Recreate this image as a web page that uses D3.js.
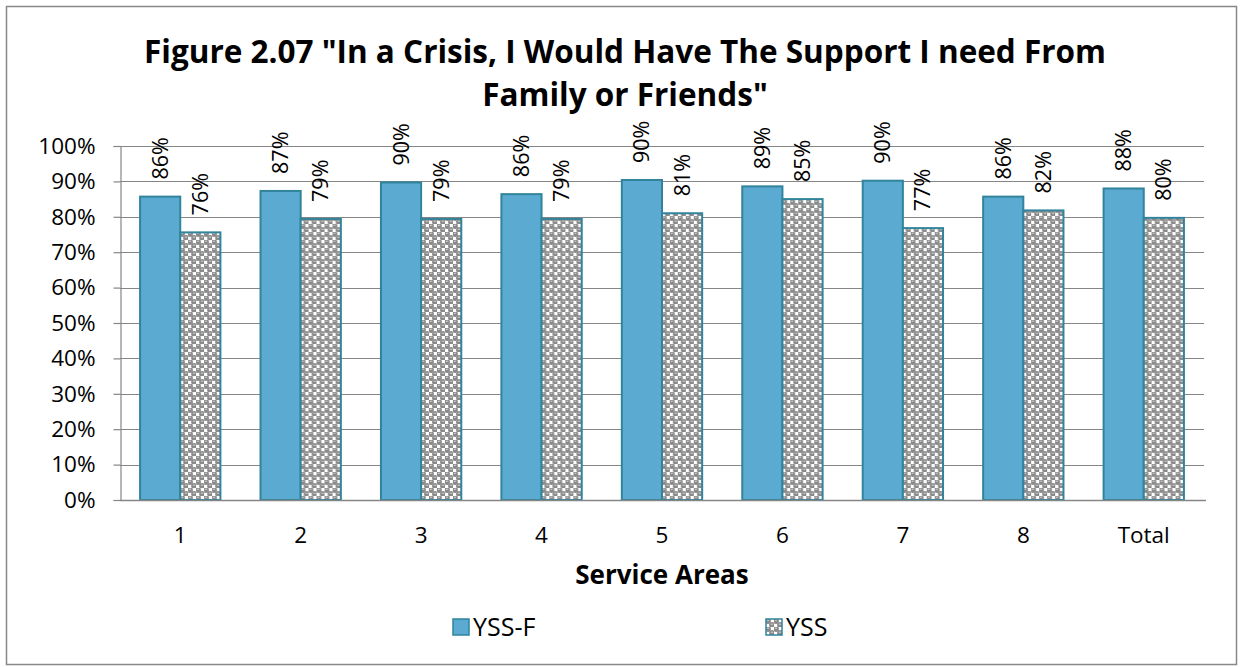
<!DOCTYPE html>
<html lang="en">
<head>
    <meta charset="UTF-8">
    <title>Figure 2.07</title>
    <script src="https://cdn.jsdelivr.net/npm/d3@7/dist/d3.min.js"></script>
    <style>
        body { margin: 0; background: #fff; }
        text { font-family: "Open Sans", "Noto Sans", sans-serif; }
    </style>
</head>
<body>
<script>
    // data
    const areas = ["1", "2", "3", "4", "5", "6", "7", "8", "Total"];
    const seriesNames = ["YSS-F", "YSS"];
    const yssF = [0.857, 0.873, 0.897, 0.864, 0.904, 0.886, 0.902, 0.857, 0.880];
    const yss = [0.756, 0.794, 0.794, 0.794, 0.810, 0.850, 0.768, 0.818, 0.797];
    const yTicks = [0, 0.1, 0.2, 0.3, 0.4, 0.5, 0.6, 0.7, 0.8, 0.9, 1.0];

    const width = 1243, height = 667;
    const margin = {top: 146, right: 39, bottom: 167, left: 120};

    const svg = d3.select("body").append("svg")
        .attr("width", width)
        .attr("height", height);

    // pattern for YSS bars (grey spheres on white)
    const defs = svg.append("defs");
    const pat = defs.append("pattern")
        .attr("id", "dots")
        .attr("patternUnits", "userSpaceOnUse")
        .attr("width", 8).attr("height", 8);
    pat.append("rect").attr("width", 8).attr("height", 8).attr("fill", "#fff");
    [[2, 2], [6, 6]].forEach(([cx, cy]) => {
        pat.append("circle").attr("cx", cx).attr("cy", cy).attr("r", 2.9).attr("fill", "#8a8a8a");
        pat.append("ellipse").attr("cx", cx).attr("cy", cy - 0.8).attr("rx", 1.2).attr("ry", 0.6).attr("fill", "#d0d0d0");
    });

    // outer frame
    svg.append("rect")
        .attr("x", 6.5).attr("y", 6.5)
        .attr("width", 1230).attr("height", 658)
        .attr("fill", "#fff")
        .attr("stroke", "#888").attr("stroke-width", 1.5);

    // title
    const title = svg.append("text")
        .attr("text-anchor", "middle")
        .attr("font-weight", "bold")
        .attr("font-size", 31.5)
        .attr("fill", "#000");
    title.append("tspan").attr("x", 625).attr("y", 63)
        .text('Figure 2.07 "In a Crisis, I Would Have The Support I need From');
    title.append("tspan").attr("x", 625).attr("y", 106)
        .text('Family or Friends"');

    const x0 = d3.scaleBand()
        .domain(areas)
        .range([margin.left, width - margin.right])
        .paddingInner(0.333)
        .paddingOuter(0.1667);

    const x1 = d3.scaleBand()
        .domain(seriesNames)
        .range([0, x0.bandwidth()]);

    const y = d3.scaleLinear()
        .domain([0, 1])
        .range([height - margin.bottom, margin.top]);

    // gridlines
    svg.append("g")
        .selectAll("line")
        .data(yTicks.slice(1))
        .join("line")
        .attr("x1", margin.left).attr("x2", width - margin.right)
        .attr("y1", d => Math.round(y(d)) + 0.5).attr("y2", d => Math.round(y(d)) + 0.5)
        .attr("stroke", "#868686").attr("stroke-width", 1.2);

    // y axis
    const yAxis = svg.append("g")
        .attr("transform", `translate(${margin.left + 0.5},0)`)
        .call(d3.axisLeft(y).tickValues(yTicks).tickFormat(d3.format(".0%")).tickSize(7).tickPadding(18));
    yAxis.select(".domain").attr("stroke", "#868686").attr("stroke-width", 1.2);
    yAxis.selectAll(".tick line").attr("stroke", "#868686").attr("stroke-width", 1.2);
    yAxis.selectAll(".tick text")
        .attr("font-size", 22.5)
        .attr("fill", "#000")
        .attr("font-family", "Open Sans, sans-serif");

    const rows = areas.map((a, i) => ({area: a, vals: [
        {key: "YSS-F", value: yssF[i]},
        {key: "YSS", value: yss[i]}
    ]}));

    const groups = svg.append("g")
        .selectAll("g")
        .data(rows)
        .join("g")
        .attr("transform", d => `translate(${x0(d.area)},0)`);

    groups.selectAll("rect")
        .data(d => d.vals)
        .join("rect")
        .attr("x", d => x1(d.key))
        .attr("y", d => y(d.value))
        .attr("width", x1.bandwidth())
        .attr("height", d => y(0) - y(d.value))
        .attr("fill", d => d.key === "YSS-F" ? "#5AAAD2" : "url(#dots)")
        .attr("stroke", "#31849B")
        .attr("stroke-width", 2);

    // value labels, rotated
    groups.selectAll("text.lbl")
        .data(d => d.vals)
        .join("text")
        .attr("class", "lbl")
        .attr("transform", d => `translate(${x1(d.key) + x1.bandwidth() / 2},${y(d.value) - 17}) rotate(-90)`)
        .attr("dy", "0.35em")
        .attr("font-size", 21.5)
        .attr("fill", "#000")
        .text(d => d3.format(".0%")(d.value));

    // x axis
    svg.append("line")
        .attr("x1", margin.left).attr("x2", width - margin.right + 2)
        .attr("y1", y(0) + 0.5).attr("y2", y(0) + 0.5)
        .attr("stroke", "#868686").attr("stroke-width", 1.5);

    svg.append("g")
        .selectAll("text")
        .data(areas)
        .join("text")
        .attr("x", d => x0(d) + x0.bandwidth() / 2)
        .attr("y", y(0) + 43)
        .attr("text-anchor", "middle")
        .attr("font-size", 22.5)
        .attr("fill", "#000")
        .text(d => d);

    svg.append("text")
        .attr("x", (margin.left + width - margin.right) / 2)
        .attr("y", y(0) + 84)
        .attr("text-anchor", "middle")
        .attr("font-weight", "bold")
        .attr("font-size", 26)
        .text("Service Areas");

    // legend
    const legendX = [453, 766];
    const leg = svg.append("g")
        .selectAll("g")
        .data(seriesNames)
        .join("g")
        .attr("transform", (d, i) => `translate(${legendX[i]},619)`);
    leg.append("rect")
        .attr("width", 16).attr("height", 16)
        .attr("fill", d => d === "YSS-F" ? "#5AAAD2" : "url(#dots)")
        .attr("stroke", "#31849B").attr("stroke-width", 1.5);
    leg.append("text")
        .attr("x", 20).attr("y", 8)
        .attr("dy", "0.36em")
        .attr("font-size", 25)
        .text(d => d);
</script>
</body>
</html>
